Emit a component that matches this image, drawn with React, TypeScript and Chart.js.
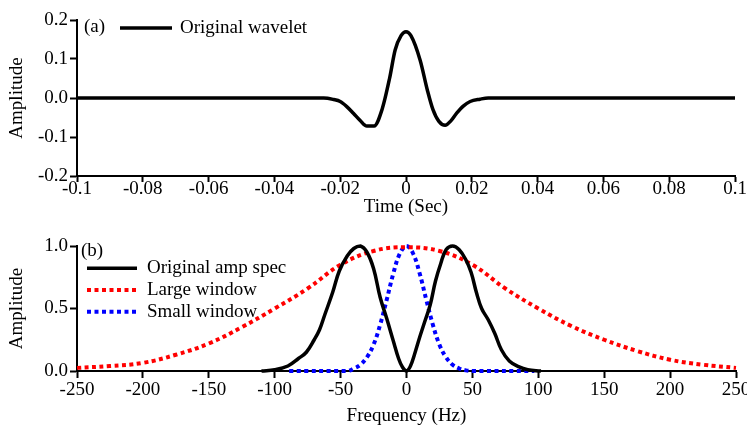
import React, { useEffect, useRef } from "react";
import { Chart, registerables } from "chart.js";

Chart.register(...registerables);

const FONT_FAMILY = "'Liberation Serif', 'Times New Roman', Times, serif";
const FONT_SIZE = 19;

// ---------- Panel (a): original wavelet ----------
const WAVELET_T = [
  -0.1, -0.025, -0.022, -0.02, -0.018, -0.016, -0.014, -0.0119, -0.0097, -0.0073,
  -0.005, -0.0033, -0.0015, 0, 0.0015, 0.0043, 0.0065, 0.0082, 0.01, 0.0119,
  0.0137, 0.0154, 0.0175, 0.0195, 0.0225, 0.025, 0.1,
];
const WAVELET_AMP = [
  0, 0, -0.004, -0.009, -0.022, -0.039, -0.057, -0.072, -0.072, -0.03,
  0.05, 0.123, 0.16, 0.17, 0.16, 0.097, 0.02, -0.03, -0.06, -0.07,
  -0.058, -0.039, -0.02, -0.009, -0.003, 0, 0,
];
const TIME_TICKS = [-0.1, -0.08, -0.06, -0.04, -0.02, 0, 0.02, 0.04, 0.06, 0.08, 0.1];
const TIME_TICK_LABELS = ["-0.1", "-0.08", "-0.06", "-0.04", "-0.02", "0", "0.02", "0.04", "0.06", "0.08", "0.1"];
const AMP_A_TICKS = [-0.2, -0.1, 0, 0.1, 0.2];
const AMP_A_TICK_LABELS = ["-0.2", "-0.1", "0.0", "0.1", "0.2"];

// ---------- Panel (b): spectra ----------
const SPEC_F = [
  -110, -100, -90, -82, -76, -70, -66, -62, -56, -51, -45, -40, -35, -30, -25, -20,
  -15, -10, -6, -3, 0, 3, 6, 10, 14, 18, 22, 26, 30, 35, 40, 45, 49, 53, 57, 62,
  67, 72, 78, 85, 92, 102,
];
const SPEC_AMP = [
  0, 0.01, 0.04, 0.1, 0.15, 0.25, 0.33, 0.45, 0.63, 0.8, 0.92, 0.98, 1.0, 0.95, 0.82, 0.59,
  0.42, 0.24, 0.1, 0.03, 0, 0.04, 0.13, 0.27, 0.4, 0.53, 0.72, 0.86, 0.97, 1.0, 0.97, 0.89,
  0.79, 0.63, 0.5, 0.41, 0.3, 0.17, 0.08, 0.035, 0.01, 0,
];
const LARGE_F = [-250, -225, -200, -175, -150, -125, -100, -75, -50, -25, 0, 25, 50, 75, 100, 125, 150, 175, 200, 225, 250];
const LARGE_AMP = [0.025, 0.04, 0.065, 0.13, 0.22, 0.35, 0.5, 0.66, 0.85, 0.96, 0.99, 0.96, 0.85, 0.66, 0.5, 0.36, 0.25, 0.16, 0.09, 0.05, 0.025];
const SMALL_F = [-89, -45, -40, -35, -30, -25, -20, -15, -10, -5, 0, 5, 10, 15, 20, 25, 30, 35, 40, 45, 50, 97];
const SMALL_AMP = [0, 0, 0.02, 0.05, 0.11, 0.21, 0.37, 0.57, 0.78, 0.94, 1.0, 0.94, 0.78, 0.57, 0.37, 0.21, 0.11, 0.05, 0.02, 0.005, 0, 0];
const FREQ_TICKS = [-250, -200, -150, -100, -50, 0, 50, 100, 150, 200, 250];
const FREQ_TICK_LABELS = ["-250", "-200", "-150", "-100", "-50", "0", "50", "100", "150", "200", "250"];
const AMP_B_TICKS = [0, 0.5, 1.0];
const AMP_B_TICK_LABELS = ["0.0", "0.5", "1.0"];

const toPoints = (xs: number[], ys: number[]) => xs.map((x, i) => ({ x, y: ys[i] }));

const panelLegend = {
  id: "panelLegend",
  afterDraw(chart: any, _args: any, opts: any) {
    const ctx = chart.ctx as CanvasRenderingContext2D;
    ctx.save();
    ctx.font = `${FONT_SIZE}px ${FONT_FAMILY}`;
    ctx.fillStyle = "#000";
    ctx.textBaseline = "middle";
    ctx.textAlign = "left";
    ctx.fillText(opts.tag, opts.tagX, opts.tagY);
    chart.data.datasets.forEach((ds: any, i: number) => {
      const y = opts.rowY + i * opts.rowStep;
      ctx.beginPath();
      ctx.setLineDash(ds.borderDash || []);
      ctx.lineWidth = ds.borderWidth;
      ctx.strokeStyle = ds.borderColor;
      ctx.lineCap = "butt";
      ctx.moveTo(opts.lineX0, y);
      ctx.lineTo(opts.lineX1, y);
      ctx.stroke();
      ctx.setLineDash([]);
      ctx.fillText(ds.label, opts.textX, y);
    });
    ctx.restore();
  },
};

function xScale(min: number, max: number, ticks: number[], labels: string[], title: string,
  tickLen: number, pad: number, titlePadBottom: number, height: number) {
  return {
    type: "linear",
    min,
    max,
    afterBuildTicks: (s: any) => { s.ticks = ticks.map((v) => ({ value: v })); },
    afterFit: (s: any) => { s.height = height; s.paddingLeft = 0; s.paddingRight = 0; },
    ticks: {
      callback: (_v: any, i: number) => labels[i],
      color: "#000",
      font: { family: FONT_FAMILY, size: FONT_SIZE, lineHeight: 1 },
      padding: pad,
      maxRotation: 0,
      autoSkip: false,
    },
    grid: { drawOnChartArea: false, drawTicks: true, tickLength: tickLen, tickWidth: 2, tickColor: "#000" },
    border: { display: true, color: "#000", width: 2 },
    title: {
      display: true, text: title, color: "#000",
      font: { family: FONT_FAMILY, size: FONT_SIZE },
      padding: { top: 0, bottom: titlePadBottom },
    },
  };
}

function yScale(min: number, max: number, ticks: number[], labels: string[]) {
  return {
    type: "linear",
    min,
    max,
    afterBuildTicks: (s: any) => { s.ticks = ticks.map((v) => ({ value: v })); },
    afterFit: (s: any) => { s.width = 77; s.paddingTop = 0; s.paddingBottom = 0; },
    ticks: {
      callback: (_v: any, i: number) => labels[i],
      color: "#000",
      font: { family: FONT_FAMILY, size: FONT_SIZE, lineHeight: 1 },
      padding: 2,
      autoSkip: false,
    },
    grid: { drawOnChartArea: false, drawTicks: true, tickLength: 7, tickWidth: 2, tickColor: "#000" },
    border: { display: true, color: "#000", width: 2 },
    title: {
      display: true, text: "Amplitude", color: "#000",
      font: { family: FONT_FAMILY, size: FONT_SIZE },
      padding: { top: 6, bottom: 0 },
    },
  };
}

export default function App() {
  const topRef = useRef<HTMLCanvasElement>(null);
  const botRef = useRef<HTMLCanvasElement>(null);

  useEffect(() => {
    const top = new Chart(topRef.current!, {
      type: "line",
      data: {
        datasets: [
          {
            label: "Original wavelet",
            data: toPoints(WAVELET_T, WAVELET_AMP),
            borderColor: "#000",
            borderWidth: 3.5,
            pointRadius: 0,
            cubicInterpolationMode: "monotone",
            fill: false,
            clip: 6,
          },
        ],
      },
      options: {
        animation: false,
        responsive: false,
        devicePixelRatio: 1,
        layout: { padding: { left: 0, right: 12, top: 20, bottom: 0 } },
        scales: {
          x: xScale(-0.1, 0.1, TIME_TICKS, TIME_TICK_LABELS, "Time (Sec)", 6, -2, 4, 46) as any,
          y: yScale(-0.2, 0.2, AMP_A_TICKS, AMP_A_TICK_LABELS) as any,
        },
        plugins: {
          legend: { display: false },
          tooltip: { enabled: false },
          panelLegend: { tag: "(a)", tagX: 84, tagY: 27, rowY: 28, rowStep: 21.7, lineX0: 120, lineX1: 172, textX: 180 },
        } as any,
      },
      plugins: [panelLegend as any],
    });

    const bot = new Chart(botRef.current!, {
      type: "line",
      data: {
        datasets: [
          {
            label: "Original amp spec",
            data: toPoints(SPEC_F, SPEC_AMP),
            borderColor: "#000",
            borderWidth: 3.5,
            pointRadius: 0,
            tension: 0.4,
            fill: false,
            clip: 6,
          },
          {
            label: "Large window",
            data: toPoints(LARGE_F, LARGE_AMP),
            borderColor: "#ff0000",
            borderWidth: 4,
            borderDash: [4, 3.5],
            pointRadius: 0,
            tension: 0.4,
            fill: false,
            clip: 6,
          },
          {
            label: "Small window",
            data: toPoints(SMALL_F, SMALL_AMP),
            borderColor: "#0000ff",
            borderWidth: 4,
            borderDash: [4, 3.5],
            pointRadius: 0,
            tension: 0.4,
            fill: false,
            clip: 6,
          },
        ],
      },
      options: {
        animation: false,
        responsive: false,
        devicePixelRatio: 1,
        layout: { padding: { left: 0, right: 11, top: 24, bottom: 0 } },
        scales: {
          x: xScale(-250, 250, FREQ_TICKS, FREQ_TICK_LABELS, "Frequency (Hz)", 7, 3, 0, 56) as any,
          y: yScale(0, 1.0, AMP_B_TICKS, AMP_B_TICK_LABELS) as any,
        },
        plugins: {
          legend: { display: false },
          tooltip: { enabled: false },
          panelLegend: { tag: "(b)", tagX: 81, tagY: 29, rowY: 46.3, rowStep: 21.7, lineX0: 87, lineX1: 137, textX: 147 },
        } as any,
      },
      plugins: [panelLegend as any],
    });

    return () => {
      top.destroy();
      bot.destroy();
    };
  }, []);

  return (
    <div style={{ position: "fixed", left: 0, top: 0, width: 747, height: 427, background: "#fff" }}>
      <canvas ref={topRef} width={747} height={222} style={{ position: "absolute", left: 0, top: 0 }} />
      <canvas ref={botRef} width={747} height={205} style={{ position: "absolute", left: 0, top: 222 }} />
    </div>
  );
}
